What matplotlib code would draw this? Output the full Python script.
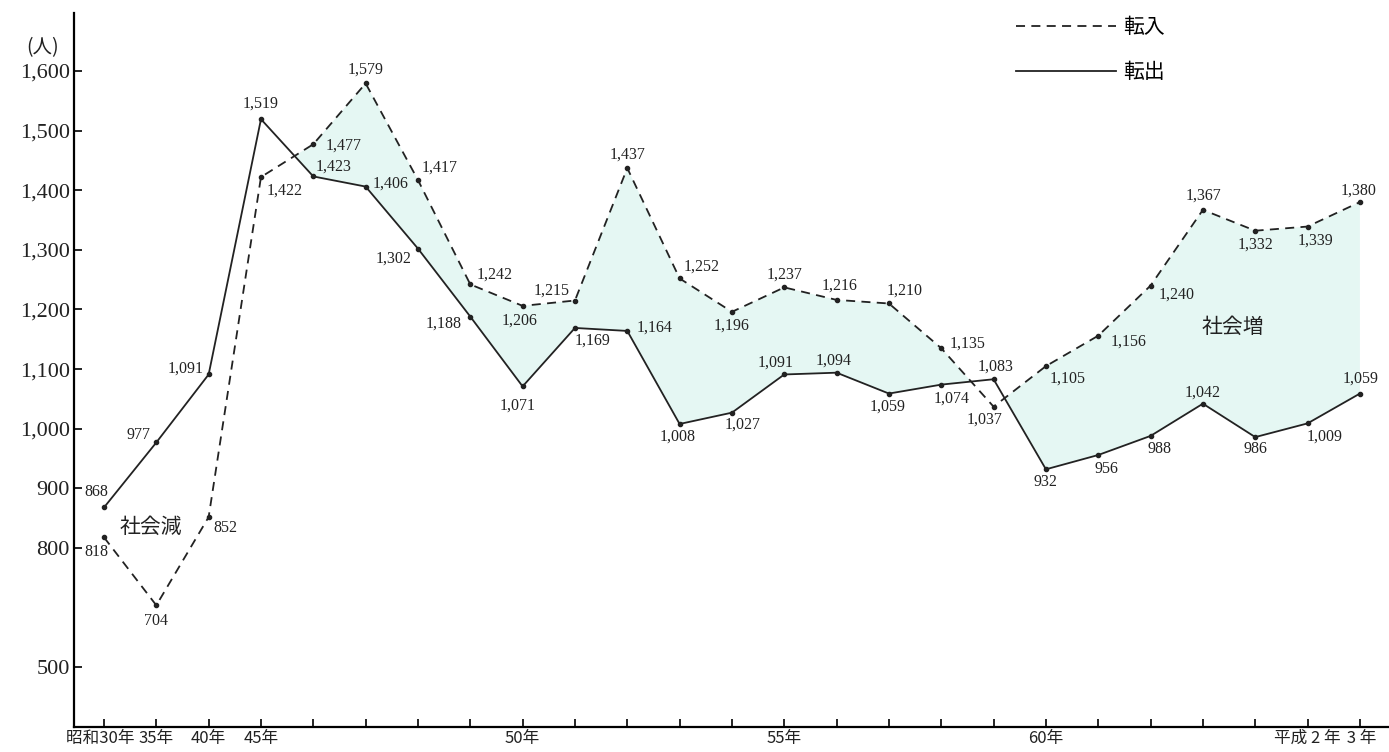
import numpy as np
import matplotlib
matplotlib.use("Agg")
import matplotlib.pyplot as plt
from matplotlib.lines import Line2D

plt.rcParams['font.family'] = ['Noto Sans CJK JP', 'DejaVu Sans']

# 年次（昭和30年〜平成3年）
x_labels = ['昭和30年  ', '35年', '40年', '45年', '', '', '', '', '50年', '', '', '', '',
            '55年', '', '', '', '', '60年', '', '', '', '', '平成 2 年', ' 3 年']
tennyu = [818, 704, 852, 1422, 1477, 1579, 1417, 1242, 1206, 1215, 1437, 1252, 1196,
          1237, 1216, 1210, 1135, 1037, 1105, 1156, 1240, 1367, 1332, 1339, 1380]
tenshutsu = [868, 977, 1091, 1519, 1423, 1406, 1302, 1188, 1071, 1169, 1164, 1008, 1027,
             1091, 1094, 1059, 1074, 1083, 932, 956, 988, 1042, 986, 1009, 1059]
y_ticks = [500, 800, 900, 1000, 1100, 1200, 1300, 1400, 1500, 1600]

# ラベルの位置ずらし (px)
off_in = [(-8, -15), (0, -16), (17, -11), (24, -14), (30, -1), (0, 14), (22, 12), (24, 10),
          (-3, -15), (-23, 10), (0, 13), (22, 12), (0, -14), (0, 13), (3, 14), (16, 13),
          (26, 5), (-9, -13), (22, -13), (30, -6), (26, -9), (1, 14), (0, -14), (8, -14), (-1, 11)]
off_out = [(-8, 15), (-18, 7), (-23, 6), (0, 16), (20, 10), (25, 3), (-24, -10), (-27, -7),
           (-5, -19), (18, -13), (27, 3), (-2, -13), (11, -12), (-9, 12), (-3, 12), (-1, -13),
           (10, -14), (2, 13), (0, -13), (8, -14), (9, -13), (0, 11), (0, -12), (17, -13), (1, 15)]

x = np.arange(len(tennyu))


# 700人未満は縮めて描く（原図の省略目盛）
def fwd(v):
    v = np.asarray(v, float)
    return np.where(v >= 700, v, 700 - (700 - v) / 2)


def inv(p):
    p = np.asarray(p, float)
    return np.where(p >= 700, p, 700 - (700 - p) * 2)


W, H = 1389, 752
fig = plt.figure(figsize=(W / 100, H / 100), dpi=100)
ax = fig.add_axes([74 / W, 25 / H, (W - 74) / W, (727 - 13) / H])
ax.set_yscale('function', functions=(fwd, inv))

lc = '#222222'
dash = (0, (5, 3.5))
ax.fill_between(x, tennyu, tenshutsu, where=np.array(tennyu) > np.array(tenshutsu),
                interpolate=True, color='#e5f7f3', linewidth=0, zorder=1)
ax.plot(x, tennyu, color=lc, lw=1.3, ls=dash, marker='o', ms=3, zorder=3)
ax.plot(x, tenshutsu, color=lc, lw=1.3, marker='o', ms=3, zorder=3)

lab_font = dict(family=['Liberation Serif'], fontsize=11.5, color='#222222')
for i in range(len(x)):
    ax.annotate(f"{tennyu[i]:,}", (x[i], tennyu[i]), xytext=off_in[i], textcoords='offset pixels',
                ha='center', va='center', **lab_font)
    ax.annotate(f"{tenshutsu[i]:,}", (x[i], tenshutsu[i]), xytext=off_out[i],
                textcoords='offset pixels', ha='center', va='center', **lab_font)

ax.text(0.9, 835, '社会減', fontsize=15, ha='center', va='center', color='#222222')
ax.text(21.57, 1171, '社会増', fontsize=15, ha='center', va='center', color='#222222')
fig.text(43 / W, 1 - 48 / H, '(人)', fontsize=14, ha='center', va='center', color='#222222')

ax.set_xlim(-0.573, 24.556)
ax.set_ylim(300, 1697)
ax.set_xticks(x)
ax.set_xticklabels(x_labels, fontsize=12, color='#222222')
ax.set_yticks(y_ticks)
ax.set_yticklabels([f"{v:,}" for v in y_ticks], family=['Liberation Serif'], fontsize=16,
                   color='#222222')
ax.tick_params(axis='x', direction='in', length=6, width=1.2, pad=2)
ax.tick_params(axis='y', direction='in', length=6, width=1.2, pad=3)
ax.spines['top'].set_visible(False)
ax.spines['right'].set_visible(False)
ax.spines['left'].set_linewidth(1.6)
ax.spines['bottom'].set_linewidth(1.6)
ax.patch.set_alpha(0)

handles = [Line2D([], [], color=lc, lw=1.3, ls=dash), Line2D([], [], color=lc, lw=1.3)]
ax.legend(handles, ['転入', '転出'], loc='upper left', bbox_to_anchor=(1016 / W, 1 - 16 / H),
          bbox_transform=fig.transFigure, frameon=False, fontsize=15, handlelength=4.8,
          handletextpad=0.34, labelspacing=1.1, borderpad=0, borderaxespad=0)

fig.savefig('out.png', dpi=100)
